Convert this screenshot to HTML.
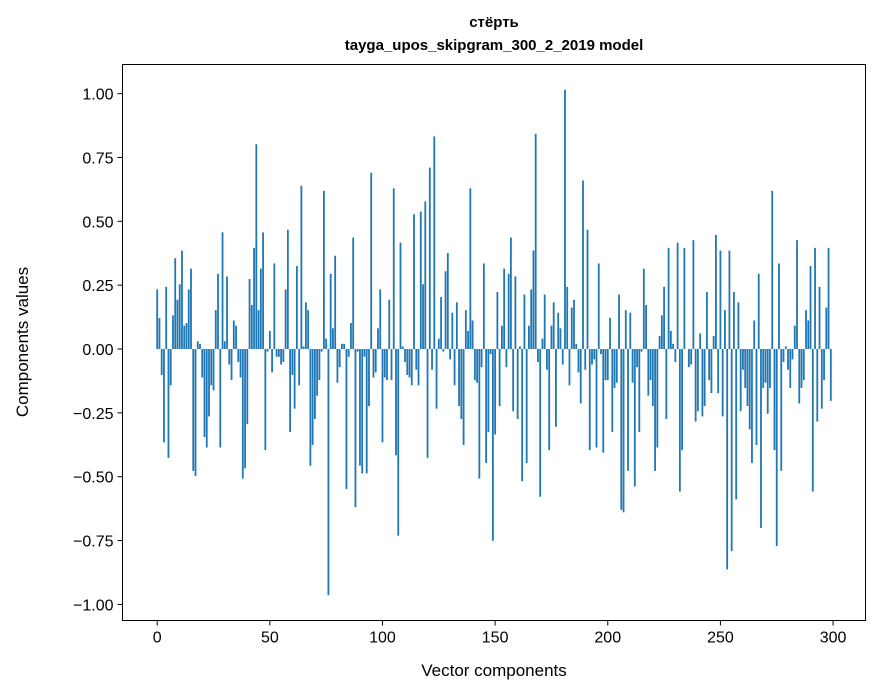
<!DOCTYPE html>
<html><head><meta charset="utf-8">
<style>
html,body{margin:0;padding:0;background:#fff;}
svg{display:block;font-family:"Liberation Sans","DejaVu Sans",sans-serif;}
</style></head>
<body>
<svg id="chart" width="880" height="696" viewBox="0 0 880 696" xmlns="http://www.w3.org/2000/svg">
<rect width="880" height="696" fill="#fff"/>
<text x="494" y="27" text-anchor="middle" font-size="15" font-weight="bold">стёрть</text>
<text x="494" y="50" text-anchor="middle" font-size="15" font-weight="bold">tayga_upos_skipgram_300_2_2019 model</text>
<g id="bars"></g>
<g id="xticks"></g>
<g id="yticks"></g>
<rect x="122.5" y="64.5" width="743" height="556" fill="none" stroke="#000" stroke-width="1"/>
<text x="494" y="676" text-anchor="middle" font-size="17">Vector components</text>
<text transform="translate(28,342) rotate(-90)" text-anchor="middle" font-size="17">Components values</text>
</svg>
<script>
const values = [
0.23,0.12,-0.10,-0.36,0.24,-0.42,-0.14,0.13,0.35,0.19,0.25,0.38,0.09,0.10,0.23,0.31,-0.47,-0.49,0.03,0.02,
-0.11,-0.34,-0.38,-0.26,-0.14,-0.16,0.15,0.29,-0.38,0.45,0.03,0.28,-0.06,-0.12,0.11,0.09,-0.05,-0.11,-0.50,-0.46,
-0.29,0.27,0.17,0.39,0.79,0.15,0.31,0.45,-0.39,-0.01,0.07,-0.09,0.33,-0.03,-0.03,-0.06,-0.05,0.23,0.46,-0.32,
-0.10,-0.23,0.32,-0.14,0.63,0.01,0.18,0.15,-0.45,-0.37,-0.27,-0.18,-0.12,-0.01,0.61,0.04,-0.95,0.29,0.08,0.36,
-0.13,-0.07,0.02,0.02,-0.54,-0.03,0.10,0.43,-0.61,-0.01,-0.45,-0.48,-0.03,-0.48,-0.22,0.68,-0.11,-0.09,0.08,0.23,
-0.36,-0.11,-0.12,0.19,-0.12,0.62,-0.41,-0.72,0.41,0.01,-0.05,-0.10,-0.11,-0.14,0.52,-0.08,-0.14,0.53,0.25,0.57,
-0.42,0.70,-0.08,0.82,-0.23,0.04,0.20,-0.01,0.30,0.37,-0.04,0.14,-0.14,0.18,-0.22,-0.27,-0.37,0.15,0.07,0.62,
0.11,-0.12,-0.13,-0.50,-0.07,0.33,-0.44,-0.32,-0.02,-0.74,-0.33,0.22,-0.22,0.09,0.31,-0.07,0.29,0.43,-0.24,0.28,
-0.27,0.01,-0.51,0.21,-0.44,0.09,0.23,0.38,0.83,-0.05,-0.57,0.04,0.21,-0.08,-0.39,0.09,0.18,-0.30,0.14,0.08,
-0.06,1.00,0.24,-0.14,0.16,0.19,0.02,-0.09,-0.21,0.65,-0.08,0.46,-0.39,-0.06,-0.04,-0.38,0.33,-0.02,-0.40,-0.12,
-0.12,0.12,-0.32,-0.15,-0.13,0.21,-0.62,-0.63,0.15,-0.47,0.14,-0.13,-0.53,-0.07,-0.32,-0.01,0.31,0.17,-0.18,-0.12,
-0.22,-0.47,-0.38,0.05,0.13,0.24,-0.27,0.39,0.07,0.02,-0.05,0.41,-0.55,-0.39,0.39,0.00,-0.07,-0.06,0.42,-0.28,
-0.24,0.06,-0.26,-0.22,0.22,-0.12,-0.17,0.05,0.44,-0.17,0.38,-0.26,0.15,-0.85,0.38,-0.78,0.22,-0.58,0.18,-0.24,
-0.08,-0.15,-0.22,-0.31,-0.44,0.11,-0.37,0.29,-0.69,-0.15,-0.13,-0.25,-0.15,0.61,-0.39,-0.76,0.33,-0.47,-0.05,0.01,
-0.08,-0.15,-0.04,0.09,0.42,-0.21,-0.15,-0.12,0.15,0.11,0.32,-0.55,0.39,-0.28,0.24,-0.23,-0.12,0.16,0.39,-0.20
];
const xTicks = [0,50,100,150,200,250,300];
const yTicks = [-1.00,-0.75,-0.50,-0.25,0.00,0.25,0.50,0.75,1.00];
const yScaleFactor = 1.015;

const NS = "http://www.w3.org/2000/svg";
const L=122.5,R=865.5,T=64.5,B=620.5;
const xMin=-15.4,xMax=314.4,yMin=-1.063,yMax=1.114;
function xs(v){return L+(v-xMin)/(xMax-xMin)*(R-L);}
function ys(v){return T+(yMax-v)/(yMax-yMin)*(B-T);}
function mk(tag,attrs){const e=document.createElementNS(NS,tag);for(const k in attrs)e.setAttribute(k,attrs[k]);return e;}

const gb=document.getElementById('bars');
values.forEach((v0,i)=>{
  const v=v0*yScaleFactor;
  const x0=xs(i-0.4),x1=xs(i+0.4);
  const y0=ys(Math.max(v,0)),y1=ys(Math.min(v,0));
  const r=mk('rect',{x:x0,y:y0,width:x1-x0,height:Math.max(y1-y0,0.01),fill:'#1f77b4'});
  
  
  gb.appendChild(r);
});

const gx=document.getElementById('xticks');
xTicks.forEach(t=>{
  const x=xs(t);
  const l=mk('line',{x1:x,x2:x,y1:B,y2:B+5,stroke:'#000','stroke-width':1});
  
  
  gx.appendChild(l);
  const tx=mk('text',{x:x,y:B+22,'text-anchor':'middle','font-size':16});
  
  
  tx.textContent=String(t);
  gx.appendChild(tx);
});

const gy=document.getElementById('yticks');
yTicks.forEach(t=>{
  const y=ys(t);
  const l=mk('line',{x1:L-5,x2:L,y1:y,y2:y,stroke:'#000','stroke-width':1});
  
  
  gy.appendChild(l);
  const tx=mk('text',{x:L-9,y:y+6,'text-anchor':'end','font-size':16});
  
  
  tx.textContent=(t<0?'\u2212':'')+Math.abs(t).toFixed(2);
  gy.appendChild(tx);
});
</script>
</body></html>
